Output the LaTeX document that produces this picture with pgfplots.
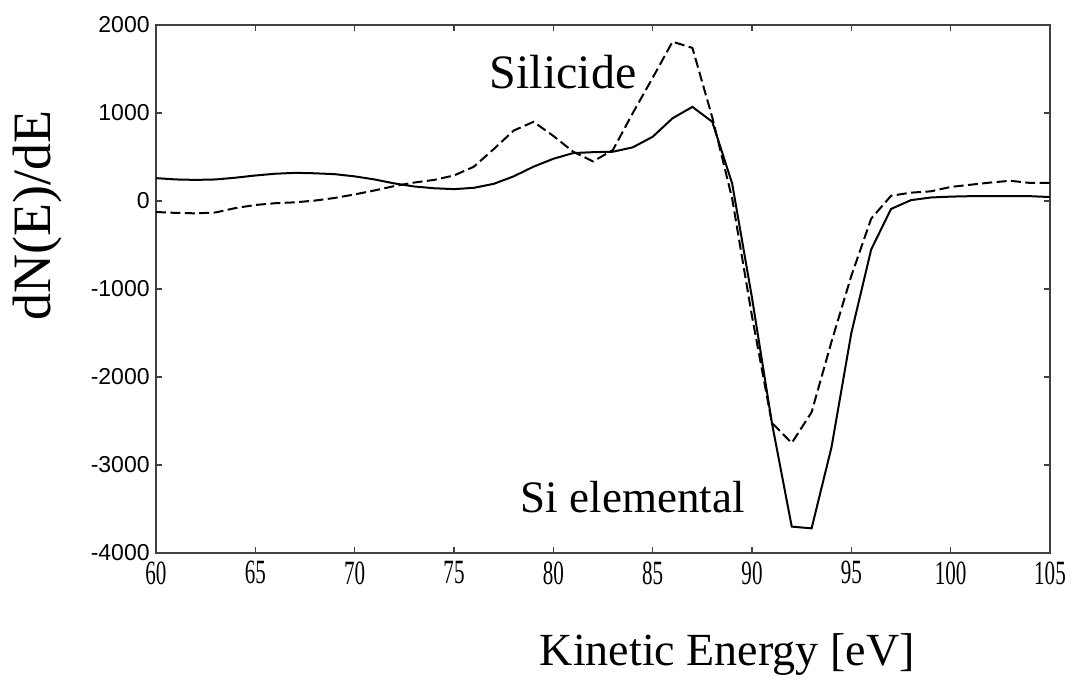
\documentclass[border=0pt]{standalone}
\usepackage{pgfplots}
\pgfplotsset{compat=1.18}
\usepackage{fontspec}
\setmainfont{Liberation Serif}
\newfontfamily\tickfont{Liberation Sans}

% Auger derivative spectra (Si LVV): elemental silicon vs. silicide
\pgfplotstableread{
E     dNdE
60    260
61    245
62    240
63    245
64    265
65    290
66    310
67    320
68    315
69    305
70    280
71    245
72    200
73    165
74    145
75    135
76    150
77    195
78    280
79    390
80    480
81    545
82    555
83    560
84    610
85    730
86    940
87    1070
88    900
89    200
90    -1100
91    -2520
92    -3700
93    -3720
94    -2800
95    -1500
96    -550
97    -90
98    10
99    40
100   50
101   55
102   55
103   55
104   55
105   45
}\elemental

\pgfplotstableread{
E     dNdE
60    -125
61    -135
62    -140
63    -130
64    -80
65    -45
66    -25
67    -15
68    5
69    35
70    75
71    120
72    170
73    210
74    240
75    290
76    390
77    590
78    800
79    900
80    740
81    560
82    450
83    580
84    1000
85    1400
86    1810
87    1740
88    950
89    30
90    -1310
91    -2520
92    -2750
93    -2400
94    -1600
95    -850
96    -200
97    60
98    95
99    110
100   160
101   185
102   210
103   230
104   205
105   205
}\silicide

\newcommand\xt[1]{\scalebox{0.62}[1]{#1}}

\begin{document}
\begin{tikzpicture}
\useasboundingbox (-78pt,-64.5pt) rectangle (460pt,276.5pt);
\begin{axis}[
  scale only axis,
  width=447pt, height=264pt,
  xmin=60, xmax=105, ymin=-4000, ymax=2000,
  xtick={60,65,...,105},
  xticklabels={\xt{60},\xt{65},\xt{70},\xt{75},\xt{80},\xt{85},\xt{90},\xt{95},\xt{100},\xt{105}},
  ytick={-4000,-3000,...,2000},
  yticklabels={-4000,-3000,-2000,-1000,0,1000,2000},
  tick align=inside,
  major tick length=3pt,
  axis line style={black!75, line width=0.8pt},
  tick style={black!75, line width=0.6pt},
  x tick label style={font=\fontsize{17}{17}\selectfont, inner sep=1pt, yshift=-3pt},
  y tick label style={font=\tickfont\fontsize{11.5}{12}\selectfont, inner sep=1pt, xshift=-2pt},
  xlabel={Kinetic Energy [eV]},
  xlabel style={at={(axis description cs:0.639,-0.193)}, anchor=center,
    font=\fontsize{23}{23}\selectfont},
  ylabel={dN(E)/dE},
  ylabel style={at={(axis description cs:-0.132,0.64)}, anchor=center, rotate=0,
    font=\fontsize{27}{27}\selectfont},
  clip=false,
]
\addplot[black, line width=1pt] table[x=E, y=dNdE] {\elemental};
\addplot[black, line width=1pt, dash pattern=on 5pt off 2.2pt] table[x=E, y=dNdE] {\silicide};
\node[font=\fontsize{24}{24}\selectfont] at (axis cs:80.5,1466) {Silicide};
\node[font=\fontsize{22.5}{22.5}\selectfont] at (axis cs:84.0,-3364) {Si elemental};
\end{axis}
\end{tikzpicture}
\end{document}
